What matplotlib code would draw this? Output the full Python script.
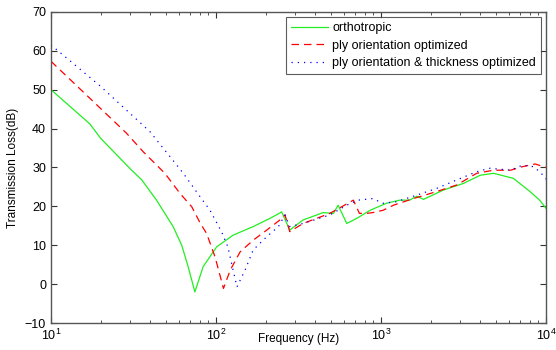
import numpy as np
import matplotlib.pyplot as plt

plt.rcParams['font.family'] = ['Liberation Sans', 'DejaVu Sans']

# orthotropic
f_orth = [10, 17.2, 20, 30, 35.5, 43.6, 55, 62, 67.8, 74.5, 83.6, 101, 127, 168, 212, 244, 250, 280, 337,
          446, 515, 550, 620, 712, 860, 1080, 1300, 1490, 1650, 1810, 2390, 3160, 3990, 4810, 6350, 8000,
          9150, 10000]
tl_orth = [50, 41.2, 37.5, 29.8, 26.8, 21.6, 14.8, 10, 4.5, -2, 4.5, 9.6, 12.6, 14.8, 16.9, 18.3, 18.6, 13.9, 16.5,
           18.4, 18.2, 20.3, 15.6, 16.9, 19, 20.8, 21.6, 21.6, 22.6, 21.8, 24.2, 25.9, 28, 28.5, 27.2, 23.8,
           21.6, 19.5]

# ply orientation optimized
f_ply = [10, 18.1, 28.7, 36.3, 49, 60.6, 71.3, 80, 87.8, 98.7, 111, 122, 140, 168, 203, 244, 262, 280, 337,
         490, 630, 680, 740, 820, 890, 1030, 1190, 1570, 2170, 2880, 3800, 4810, 6100, 7200, 8600, 10000]
tl_ply = [57.3, 46.9, 38.8, 34, 28.5, 23.3, 19.9, 15.8, 13, 7, -1.1, 3.6, 8.3, 11.3, 13.9, 16.5, 17.8, 13.5, 15.6,
          18.2, 20.8, 21.6, 18.2, 18.2, 18.4, 19, 20.3, 22, 23.8, 25.5, 28.5, 29.3, 29.3, 30.2, 30.9, 30]

# ply orientation & thickness optimized
f_plyt = [10, 19.8, 39.8, 63.4, 80, 92, 108, 118, 127, 134, 150, 168, 203, 239, 262, 280, 337, 490, 620,
          728, 890, 1030, 1240, 1650, 2170, 2880, 3800, 4570, 6100, 7200, 8400, 9150, 9800, 10000]
tl_plyt = [61.5, 51, 39.2, 28.5, 22.5, 19, 13.5, 9.6, 3.6, -0.7, 3.6, 8.8, 12.2, 14.8, 17.8, 14.8, 15.6, 17.8, 20.3,
           21.6, 22, 20.8, 21.2, 22.9, 24.6, 26.8, 28.9, 29.8, 29.3, 30.6, 30.2, 28.9, 27.6, 27]

labels = ['orthotropic', 'ply orientation optimized', 'ply orientation & thickness optimized']

fig = plt.figure(figsize=(5.56, 3.5), dpi=100)
ax = fig.add_axes([0.0917, 0.077, 0.8903, 0.889])

ax.semilogx(f_orth, tl_orth, '-', color='#22ee22', lw=0.9, label=labels[0])
ax.semilogx(f_ply, tl_ply, '--', color='red', lw=0.9, dashes=(6, 4), label=labels[1])
ax.semilogx(f_plyt, tl_plyt, ':', color='blue', lw=0.9, dashes=(1, 4), label=labels[2])

ax.set_xlim(10, 10000)
ax.set_ylim(-10, 70)
ax.set_yticks(np.arange(-10, 71, 10))
ax.set_xlabel('Frequency (Hz)', fontsize=8.5)
ax.xaxis.set_label_coords(0.5, -0.032)
ax.set_ylabel('Transmission Loss(dB)', fontsize=8.5, labelpad=4)

ax.tick_params(which='both', direction='in', top=True, right=True, labelsize=9, color='#333333')
ax.tick_params(which='major', length=4)
ax.tick_params(which='minor', length=2)
for s in ax.spines.values():
    s.set_color('#555555')
    s.set_linewidth(1.0)

leg = ax.legend(loc='upper right', fontsize=9, handlelength=3.0, fancybox=False,
                borderaxespad=0.4, borderpad=0.4, labelspacing=0.45, handletextpad=0.3)
leg.get_frame().set_edgecolor('#333333')
leg.get_frame().set_linewidth(0.8)

plt.savefig('out.png', dpi=100)
